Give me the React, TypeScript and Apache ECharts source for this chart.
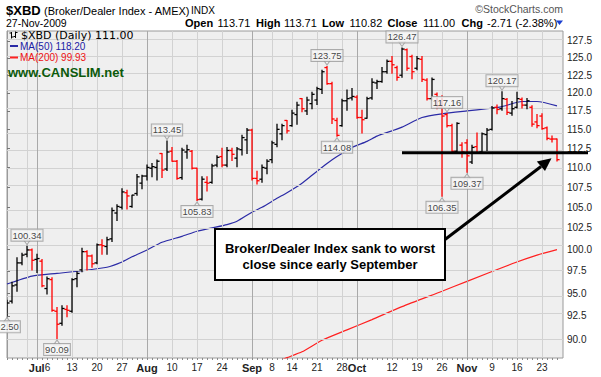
import React, { useEffect, useRef } from 'react';
import * as echarts from 'echarts';

// ---------- data ----------
const dates = [
  '2009-06-23','2009-06-24','2009-06-25','2009-06-26','2009-06-29','2009-06-30',
  '2009-07-01','2009-07-02','2009-07-06','2009-07-07','2009-07-08','2009-07-09','2009-07-10','2009-07-13','2009-07-14','2009-07-15','2009-07-16','2009-07-17','2009-07-20','2009-07-21','2009-07-22','2009-07-23','2009-07-24','2009-07-27','2009-07-28','2009-07-29','2009-07-30','2009-07-31',
  '2009-08-03','2009-08-04','2009-08-05','2009-08-06','2009-08-07','2009-08-10','2009-08-11','2009-08-12','2009-08-13','2009-08-14','2009-08-17','2009-08-18','2009-08-19','2009-08-20','2009-08-21','2009-08-24','2009-08-25','2009-08-26','2009-08-27','2009-08-28','2009-08-31',
  '2009-09-01','2009-09-02','2009-09-03','2009-09-04','2009-09-08','2009-09-09','2009-09-10','2009-09-11','2009-09-14','2009-09-15','2009-09-16','2009-09-17','2009-09-18','2009-09-21','2009-09-22','2009-09-23','2009-09-24','2009-09-25','2009-09-28','2009-09-29','2009-09-30',
  '2009-10-01','2009-10-02','2009-10-05','2009-10-06','2009-10-07','2009-10-08','2009-10-09','2009-10-12','2009-10-13','2009-10-14','2009-10-15','2009-10-16','2009-10-19','2009-10-20','2009-10-21','2009-10-22','2009-10-23','2009-10-26','2009-10-27','2009-10-28','2009-10-29','2009-10-30',
  '2009-11-02','2009-11-03','2009-11-04','2009-11-05','2009-11-06','2009-11-09','2009-11-10','2009-11-11','2009-11-12','2009-11-13','2009-11-16','2009-11-17','2009-11-18','2009-11-19','2009-11-20','2009-11-23','2009-11-24','2009-11-25','2009-11-27',
];

const open = [
  93.6, 94.1, 95.9, 98.4, 99.4, 99.9, 98.8, 98.6, 95.5, 96.5,
  93.0, 91.7, 93.2, 93.0, 96.6, 97.6, 99.7, 99.2, 98.4, 100.5,
  100.3, 101.2, 104.3, 105.0, 106.8, 105.1, 106.7, 108.0, 108.9, 109.9,
  110.0, 111.8, 109.8, 112.1, 110.8, 108.7, 112.0, 112.1, 109.9, 106.0,
  108.1, 108.1, 110.3, 111.4, 110.3, 112.2, 111.2, 112.3, 113.6, 114.9,
  108.6, 108.5, 109.9, 111.0, 113.0, 114.4, 116.2, 115.5, 117.0, 119.2,
  117.5, 118.5, 119.0, 120.5, 123.6, 121.3, 116.2, 115.5, 118.9, 119.3,
  119.4, 116.6, 116.5, 119.3, 121.4, 121.6, 123.0, 124.5, 123.6, 122.5,
  126.2, 125.2, 123.5, 124.8, 121.8, 119.2, 119.8, 118.0, 117.0, 115.5,
  112.1, 112.9, 113.2, 110.7, 112.7, 112.0, 114.3, 115.0, 118.0, 117.8,
  119.1, 117.2, 118.0, 119.1, 118.3, 118.0, 116.0, 116.8, 115.2, 113.7,
  113.71,
];
const high = [
  94.2, 96.2, 99.0, 99.5, 100.34, 100.0, 99.4, 98.8, 96.8, 96.7,
  93.4, 93.6, 93.6, 96.6, 97.4, 100.1, 99.8, 99.3, 100.6, 101.1,
  101.4, 104.9, 105.3, 107.3, 107.1, 106.5, 109.1, 109.0, 110.3, 110.5,
  110.95, 111.8, 113.45, 112.6, 110.9, 112.5, 112.9, 112.2, 109.9, 108.8,
  108.8, 110.4, 111.5, 112.5, 112.6, 112.5, 112.6, 114.2, 115.1, 115.0,
  109.5, 110.3, 111.0, 113.4, 115.7, 115.7, 116.2, 117.6, 118.7, 119.2,
  119.4, 120.1, 120.8, 123.2, 123.75, 121.5, 116.5, 119.1, 120.4, 120.6,
  119.6, 117.6, 119.4, 122.0, 121.8, 123.6, 124.7, 125.2, 123.8, 126.47,
  126.3, 125.4, 125.2, 125.2, 122.0, 122.1, 120.0, 119.6, 117.16, 115.7,
  115.9, 113.2, 113.6, 112.9, 114.5, 114.5, 115.1, 118.1, 118.3, 120.17,
  119.2, 118.8, 120.1, 119.3, 119.2, 118.2, 117.0, 117.1, 115.3, 114.1,
  113.71,
];
const low = [
  92.5, 93.9, 95.2, 98.2, 99.1, 97.6, 97.3, 95.7, 94.9, 93.0,
  90.09, 91.5, 92.4, 92.9, 95.7, 97.4, 97.6, 97.9, 98.3, 99.4,
  99.4, 100.9, 103.4, 104.8, 104.8, 105.0, 106.5, 107.3, 108.4, 108.8,
  108.4, 108.7, 109.6, 110.8, 108.5, 108.5, 111.2, 109.8, 105.83, 105.9,
  107.0, 108.0, 110.1, 110.1, 110.1, 110.9, 110.1, 111.6, 111.8, 108.4,
  107.9, 108.1, 109.2, 110.6, 112.7, 113.6, 114.5, 115.4, 115.7, 117.4,
  117.0, 117.8, 118.4, 119.9, 121.2, 115.8, 114.08, 115.4, 117.6, 119.0,
  116.5, 114.5, 116.5, 119.1, 120.6, 121.5, 122.8, 122.8, 121.8, 122.2,
  123.2, 122.0, 123.3, 121.6, 119.0, 119.0, 117.8, 106.35, 115.3, 112.0,
  112.0, 111.3, 109.37, 110.5, 111.8, 111.9, 112.2, 114.9, 117.1, 117.6,
  117.0, 116.9, 117.9, 117.9, 117.8, 115.4, 115.2, 115.0, 113.6, 113.3,
  110.82,
];
const close = [
  93.9, 95.8, 98.4, 99.3, 99.9, 98.7, 98.9, 95.8, 96.6, 93.1,
  91.6, 93.3, 93.1, 96.5, 97.2, 99.7, 99.2, 98.3, 100.5, 100.4,
  101.1, 104.6, 105.1, 106.9, 106.4, 106.5, 108.8, 108.9, 110.0, 110.1,
  110.8, 109.66, 112.0, 110.8, 108.6, 112.25, 112.3, 109.9, 105.95, 108.5,
  108.0, 110.2, 111.3, 110.3, 112.2, 111.7, 112.4, 113.9, 114.9, 108.6,
  108.3, 110.0, 110.8, 113.2, 115.0, 115.5, 114.8, 117.2, 118.3, 117.8,
  119.0, 119.8, 120.6, 123.0, 121.3, 116.4, 114.2, 118.9, 119.2, 119.5,
  116.6, 116.3, 119.2, 121.5, 121.6, 123.0, 124.5, 124.0, 122.2, 126.3,
  123.5, 123.0, 124.9, 121.9, 119.2, 121.9, 118.0, 116.8, 115.5, 112.1,
  115.8, 112.0, 111.5, 112.6, 111.9, 114.4, 114.9, 117.9, 117.7, 119.2,
  117.3, 117.8, 119.2, 118.3, 118.9, 115.7, 115.5, 115.1, 113.8, 113.71,
  111.0,
];

const ma50Dates = [
  '2009-06-23','2009-06-30','2009-07-08','2009-07-15','2009-07-22','2009-07-27','2009-07-29','2009-08-03','2009-08-06','2009-08-12',
  '2009-08-17','2009-08-20','2009-08-25','2009-08-27','2009-09-01','2009-09-03','2009-09-09','2009-09-11','2009-09-16','2009-09-18',
  '2009-09-23','2009-09-25','2009-09-30','2009-10-05','2009-10-07','2009-10-12','2009-10-14','2009-10-20','2009-10-26','2009-11-02',
  '2009-11-06','2009-11-11','2009-11-17','2009-11-20','2009-11-27',
];
const ma50Values = [
  96.0, 96.9, 97.2, 97.5, 97.9, 98.5, 99.1, 99.9, 100.8, 101.5,
  102.1, 102.5, 102.9, 103.3, 104.4, 105.0, 106.1, 106.8, 108.0, 109.0,
  110.5, 111.4, 112.6, 113.4, 114.1, 114.8, 115.3, 116.6, 117.1, 117.5,
  117.8, 118.1, 118.8, 118.8, 118.2,
];
const ma200Dates = [
  '2009-09-09','2009-09-11','2009-09-16','2009-09-22','2009-09-29','2009-10-06','2009-10-14','2009-10-26','2009-11-02','2009-11-13','2009-11-20','2009-11-27',
];
const ma200Values = [87.7, 88.1, 88.7, 89.9, 91.0, 92.1, 93.5, 95.2, 96.3, 98.3, 99.3, 99.93];

const yTicks = [90, 92.5, 95, 97.5, 100, 102.5, 105, 107.5, 110, 112.5, 115, 117.5, 120, 122.5, 125, 127.5];

// The "Jul" month label and the "6" week label sit next to each other, so they share one tick.
const xTickDates = ['2009-07-01','2009-07-13','2009-07-20','2009-07-27','2009-08-03','2009-08-10','2009-08-17','2009-08-24','2009-09-01','2009-09-08','2009-09-14','2009-09-21','2009-09-28','2009-10-01','2009-10-12','2009-10-19','2009-10-26','2009-11-02','2009-11-09','2009-11-16','2009-11-23'];
const xTickMonth = ['Jul','','','','Aug','','','','Sep','','','','','Oct','','','','Nov','','',''];
const xTickDay = ['6','13','20','27','','10','17','24','','8','14','21','28','','12','19','26','','9','16','23'];
const monthStartDates = ['2009-07-01','2009-08-03','2009-09-01','2009-10-01','2009-11-02'];
const weekLineDates = ['2009-06-29','2009-07-13','2009-07-20','2009-07-27','2009-08-10','2009-08-17','2009-08-24','2009-09-08','2009-09-14','2009-09-21','2009-09-28','2009-10-12','2009-10-19','2009-10-26','2009-11-09','2009-11-16','2009-11-23'];

const highLabelDates = ['2009-06-29','2009-08-07','2009-09-23','2009-10-14','2009-10-27','2009-11-11'];
const lowLabelDates = ['2009-06-23','2009-07-08','2009-08-17','2009-09-25','2009-10-26','2009-11-02'];

const supportLevel = 111.9;
const supportStartDate = '2009-10-14';

// ---------- chart ----------
const L = Math.log;
const idxOf = (d: string) => dates.indexOf(d);

export default function App() {
  const ref = useRef<HTMLDivElement>(null);
  useEffect(() => {
    const chart = echarts.init(ref.current!, null, { renderer: 'svg' });
    const yMin = L(88.06);
    const yMax = L(128.99);

    const ohlc = dates.map((_, i) => [
      i, L(open[i]), L(high[i]), L(low[i]), L(close[i]),
      i > 0 && close[i] < close[i - 1] ? 1 : 0,
    ]);

    const gridLines: any[] = [];
    yTicks.forEach((v) => gridLines.push({ yAxis: L(v), lineStyle: { color: '#d2d2d2', width: 1, type: 'solid' } }));
    weekLineDates.forEach((d) => gridLines.push({ xAxis: idxOf(d), lineStyle: { color: '#d2d2d2', width: 1, type: 'solid' } }));
    monthStartDates.forEach((d) => gridLines.push({ xAxis: idxOf(d), lineStyle: { color: '#a9a9a9', width: 1, type: 'solid' } }));

    // month+day combined tick (Jul 6) is placed half-way between Jul 1 and Jul 6
    const tickPos = xTickDates.map((d, k) => (xTickMonth[k] && xTickDay[k] ? (idxOf(d) + idxOf('2009-07-06')) / 2 - 0.5 : idxOf(d)));

    const labelStyle = {
      show: true,
      fontSize: 9.5,
      fontFamily: 'Arial',
      color: '#111',
      backgroundColor: '#f6f6f6',
      borderColor: '#9a9a9a',
      borderWidth: 1,
      padding: [1, 1, 0, 1],
      position: 'inside',
    };

    const option: any = {
      animation: false,
      grid: {
        left: 7, right: 38, top: 31, bottom: 19,
        show: true, backgroundColor: '#efefef', borderColor: '#9a9a9a', borderWidth: 1,
        containLabel: false, outerBoundsMode: 'none',
      },
      xAxis: {
        type: 'value', min: 0, max: 111.2,
        axisLine: { show: false },
        splitLine: { show: false },
        axisTick: { show: true, customValues: dates.map((_, i) => i), length: 2, lineStyle: { color: '#8a8a8a' } },
        axisLabel: {
          customValues: tickPos,
          hideOverlap: false,
          showMinLabel: true,
          showMaxLabel: true,
          formatter: (v: number) => {
            let k = -1;
            tickPos.forEach((p, j) => { if (Math.abs(p - v) < 0.01) k = j; });
            if (k < 0) return '';
            const m = xTickMonth[k] ? `{m|${xTickMonth[k]}}` : '';
            return m + xTickDay[k];
          },
          fontSize: 10, fontFamily: 'Arial', color: '#222', margin: 4,
          rich: { m: { fontWeight: 'bold', fontSize: 11, fontFamily: 'Arial', color: '#222' } },
        },
      },
      yAxis: {
        type: 'value', position: 'right', min: yMin, max: yMax,
        axisLine: { show: true, lineStyle: { color: '#9a9a9a' } },
        splitLine: { show: false },
        axisTick: { show: true, customValues: yTicks.map(L), length: 3, lineStyle: { color: '#777' } },
        axisLabel: {
          customValues: yTicks.map(L),
          hideOverlap: false,
          formatter: (v: number) => Math.exp(v).toFixed(1),
          fontSize: 10, fontFamily: 'Arial', color: '#222', margin: 4,
        },
      },
      series: [
        {
          type: 'line', data: [], z: 1, silent: true,
          markLine: { silent: true, symbol: ['none', 'none'], label: { show: false }, emphasis: { disabled: true }, data: gridLines },
        },
        {
          type: 'line', name: 'MA200', z: 3, clip: true, showSymbol: false, smooth: 0.2,
          data: ma200Dates.map((d, k) => [idxOf(d), L(ma200Values[k])]),
          lineStyle: { color: '#ff2020', width: 1.2 },
        },
        {
          type: 'line', name: 'MA50', z: 3, clip: true, showSymbol: false, smooth: 0.2,
          data: ma50Dates.map((d, k) => [idxOf(d), L(ma50Values[k])]),
          lineStyle: { color: '#2b2ba6', width: 1.2 },
        },
        {
          type: 'custom', name: '$XBD', z: 5, clip: true,
          encode: { x: 0, y: [1, 2, 3, 4] },
          data: ohlc,
          renderItem: (_p: any, api: any) => {
            const x = api.value(0);
            const h = api.coord([x, api.value(2)]);
            const l = api.coord([x, api.value(3)]);
            const o = api.coord([x, api.value(1)]);
            const c = api.coord([x, api.value(4)]);
            const color = api.value(5) ? '#ff0000' : '#000000';
            const style = { stroke: color, lineWidth: 1.3 };
            return {
              type: 'group',
              children: [
                { type: 'line', shape: { x1: h[0], y1: h[1] - 0.5, x2: l[0], y2: l[1] + 0.5 }, style },
                { type: 'line', shape: { x1: o[0] - 2.6, y1: o[1], x2: o[0], y2: o[1] }, style },
                { type: 'line', shape: { x1: c[0], y1: c[1], x2: c[0] + 2.6, y2: c[1] }, style },
              ],
            };
          },
        },
        {
          type: 'scatter', z: 8, clip: false, silent: true,
          symbol: 'path://M0,0 L10,0 L5,7 Z', symbolSize: [7, 5], symbolOffset: [0, -4],
          itemStyle: { color: '#f6f6f6', borderColor: '#9a9a9a', borderWidth: 1 },
          data: highLabelDates.map((d) => [idxOf(d), L(high[idxOf(d)])]),
        },
        {
          type: 'scatter', z: 8, clip: false, silent: true,
          symbol: 'path://M5,0 L10,7 L0,7 Z', symbolSize: [7, 5], symbolOffset: [0, 4],
          itemStyle: { color: '#f6f6f6', borderColor: '#9a9a9a', borderWidth: 1 },
          data: lowLabelDates.map((d) => [idxOf(d), L(low[idxOf(d)])]),
        },
        {
          type: 'scatter', z: 9, clip: false, silent: true, symbolSize: 0.1,
          itemStyle: { color: 'rgba(0,0,0,0)' },
          label: { ...labelStyle, offset: [0, -11], formatter: (p: any) => p.value[2].toFixed(2) },
          data: highLabelDates.map((d) => [idxOf(d), L(high[idxOf(d)]), high[idxOf(d)]]),
        },
        {
          type: 'scatter', z: 9, clip: false, silent: true, symbolSize: 0.1,
          itemStyle: { color: 'rgba(0,0,0,0)' },
          label: { ...labelStyle, offset: [0, 11], formatter: (p: any) => p.value[2].toFixed(2) },
          data: lowLabelDates.map((d) => [idxOf(d), L(low[idxOf(d)]), low[idxOf(d)]]),
        },
      ],
    };
    chart.setOption(option);

    const sp = chart.convertToPixel({ gridIndex: 0 }, [idxOf(supportStartDate), L(supportLevel)]) as number[];
    const last = dates.length - 1;
    const hdr = (text: string, x: number, y: number, font: string, size: number, fill = '#000', align = 'left') => ({
      type: 'text', z: 100, silent: true,
      style: { text, x, y, font, fill, lineHeight: size, align, textAlign: align, verticalAlign: 'middle', textVerticalAlign: 'middle' },
    });
    const seg = (x1: number, y1: number, x2: number, y2: number, stroke: string, lineWidth: number) => ({
      type: 'line', z: 100, silent: true, shape: { x1, y1, x2, y2 }, style: { stroke, lineWidth },
    });
    const chg = close[last] - close[last - 1];

    chart.setOption({
      graphic: [
        hdr('$XBD', 6, 10, 'bold 13px Arial', 13),
        hdr('(Broker/Dealer Index - AMEX)', 44, 10.5, '11px Arial', 11),
        hdr('INDX', 191, 10.5, '10px Arial', 10),
        hdr('\u00A9StockCharts.com', 563, 9, '10.5px Arial', 10.5, '#555', 'right'),
        hdr('27-Nov-2009', 6, 23, '10.5px Arial', 10.5),
        hdr('Open', 185, 22.5, 'bold 11px Arial', 11),
        hdr(open[last].toFixed(2), 217.5, 22.5, '11px Arial', 11),
        hdr('High', 256, 22.5, 'bold 11px Arial', 11),
        hdr(high[last].toFixed(2), 284, 22.5, '11px Arial', 11),
        hdr('Low', 322, 22.5, 'bold 11px Arial', 11),
        hdr(low[last].toFixed(2), 349.5, 22.5, '11px Arial', 11),
        hdr('Close', 387.5, 22.5, 'bold 11px Arial', 11),
        hdr(close[last].toFixed(2), 423, 22.5, '11px Arial', 11),
        hdr('Chg', 461.5, 22.5, 'bold 11px Arial', 11),
        hdr(`${chg.toFixed(2)} (${((chg / close[last - 1]) * 100).toFixed(2)}%)`, 487, 22.5, '11px Arial', 11),
        { type: 'polygon', z: 100, silent: true, shape: { points: [[556, 20.5], [563, 20.5], [559.5, 25]] }, style: { fill: '#1a3fd0' } },
        // legend
        seg(11.5, 32, 11.5, 38.5, '#000', 1), seg(9.5, 33, 11.5, 33, '#000', 1), seg(11.5, 37, 13.5, 37, '#000', 1),
        seg(15.5, 31.5, 15.5, 38, '#000', 1), seg(13.5, 36.5, 15.5, 36.5, '#000', 1), seg(15.5, 32.5, 17.5, 32.5, '#000', 1),
        hdr(`$XBD (Daily) ${close[last].toFixed(2)}`, 21, 35.5, '11px "DejaVu Sans"', 11),
        seg(10, 46, 18, 46, '#2b2ba6', 2),
        hdr(`MA(50) ${ma50Values[ma50Values.length - 1].toFixed(2)}`, 20, 46, '10px Arial', 10, '#1a1aa6'),
        seg(10, 57.5, 18, 57.5, '#ff2020', 2),
        hdr(`MA(200) ${ma200Values[ma200Values.length - 1].toFixed(2)}`, 20, 57.5, '10px Arial', 10, '#ee1111'),
        hdr('www.CANSLIM.net', 8, 72.5, 'bold 13px Arial', 13, '#0b5a0b'),
        // annotations
        seg(sp[0], sp[1], 588, sp[1], '#000', 3),
        seg(445, 239.5, 541, 166.5, '#000', 3),
        { type: 'polygon', z: 100, silent: true, shape: { points: [[551.5, 158.3], [536.8, 161.5], [545, 171]] }, style: { fill: '#000' } },
        { type: 'rect', z: 100, silent: true, shape: { x: 215, y: 229, width: 230, height: 51 }, style: { fill: '#fff', stroke: '#000', lineWidth: 2 } },
        hdr('Broker/Dealer Index sank to worst', 330, 248, 'bold 13px Arial', 13, '#000', 'center'),
        hdr('close since early September', 330, 264, 'bold 13px Arial', 13, '#000', 'center'),
      ],
    });

    return () => chart.dispose();
  }, []);
  return <div ref={ref} style={{ position: 'fixed', left: 0, top: 0, width: 601, height: 377, background: '#fff' }} />;
}
